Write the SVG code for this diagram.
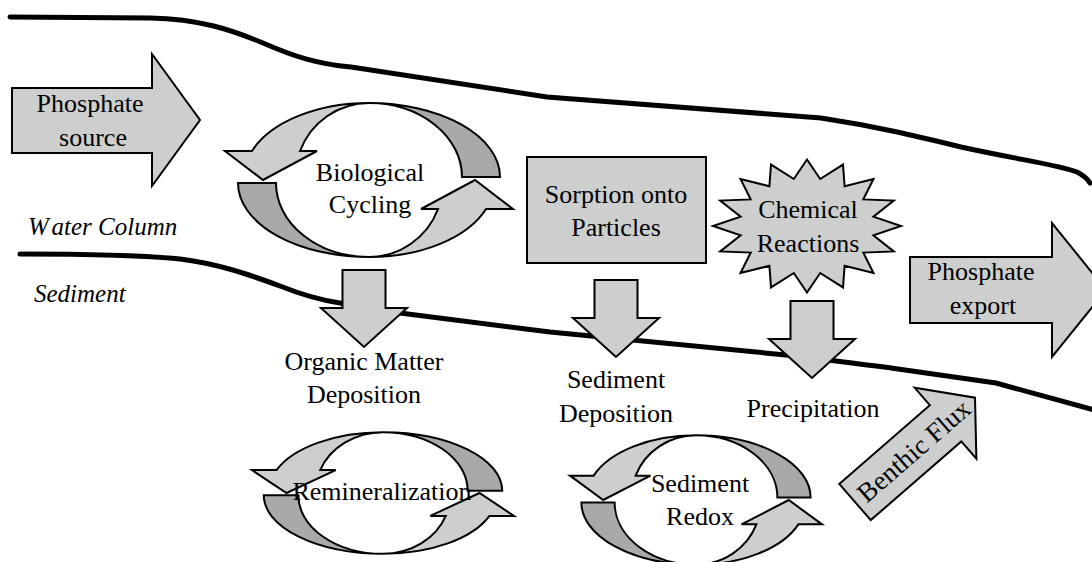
<svg xmlns="http://www.w3.org/2000/svg" xmlns:xlink="http://www.w3.org/1999/xlink" width="1092" height="562" viewBox="0 0 1092 562">
<style>
.lt{fill:#cdcfce;stroke:#000;stroke-width:2;stroke-linejoin:miter}
.dk{fill:#a8aaaa;stroke:#000;stroke-width:2}
.cy path{vector-effect:non-scaling-stroke}
.bd{fill:none;stroke:#000;stroke-width:5;stroke-linecap:round}
text{font-family:"Liberation Serif","Times New Roman",serif;font-size:26px;fill:#000;text-anchor:middle}
.it{font-style:italic;font-size:25px;text-anchor:start}
</style>
<defs>
<g id="cyc" class="cy">
<g id="half">
<path class="dk" d="M131,-3 A131 74 0 0 0 0,-77 A93 74 0 0 1 93,-3 Z"/>
<path class="lt" d="M0,-77 A125 74 0 0 0 -117,-29 L-144,-29 L-106,0 L-52,-29 L-69,-29 A74 74 0 0 1 0,-77 Z"/>
</g>
<use xlink:href="#half" transform="rotate(180)"/>
</g>
<path id="down" class="lt" d="M-21.5,0 H21.5 V38 H43 L0,77 L-43,38 H-21.5 Z"/>
</defs>

<g id="connectors">
<path class="bd" d="M10,17 L150,18 C200,19 232,30 263,43 C295,57 318,64 351,67 L547,97 L821,118 C880,127 920,137 961,147 C1020,160 1060,165 1077,172 C1083,175 1087,178 1090,183"/>
<path class="bd" d="M20,254 C100,254 150,256 180,259 C220,264 250,275 280,286 C300,294 320,300 340,303 C360,307 380,311 400,313 L550,332 L786,355 C830,360 860,364 891,368 L996,383 L1094,410"/>
</g>

<g id="labels">
<text class="it" x="28" y="235">W<tspan dx="5">ater Column</tspan></text>
<text class="it" x="34" y="302">Sediment</text>
</g>

<g id="phosphate-source">
<path class="lt" d="M12,88 H152 V54 L200,120 L152,186 V153 H12 Z"/>
<text x="90" y="112">Phosphate</text>
<text x="93" y="146">source</text>
</g>

<g id="biological-cycling">
<use xlink:href="#cyc" transform="translate(369,180)"/>
<text x="370" y="181">Biological</text>
<text x="370" y="213">Cycling</text>
</g>

<g id="sorption">
<rect class="lt" x="527" y="157" width="179" height="106"/>
<text x="616" y="203">Sorption onto</text>
<text x="616" y="236">Particles</text>
</g>

<g id="chemical-reactions">
<polygon class="lt" points="807,159.5 820.2,179 843,164.6 844.6,186.2 873.5,179 863.3,199.4 893.8,200.6 873.4,216.7 901,226 873.4,235.3 893.8,251.4 863.3,252.6 873.5,273 844.6,265.8 843,287.4 820.2,273 807,292.5 793.8,273 771,287.4 769.4,265.8 740.5,273 750.7,252.6 720.2,251.4 740.6,235.3 713,226 740.6,216.7 720.2,200.6 750.7,199.4 740.5,179 769.4,186.2 771,164.6 793.8,179"/>
<text x="808" y="218">Chemical</text>
<text x="808" y="252">Reactions</text>
</g>

<g id="phosphate-export">
<path class="lt" d="M910,257 H1052 V223 L1106,290 L1052,357 V323 H910 Z"/>
<text x="981" y="280">Phosphate</text>
<text x="983" y="314">export</text>
</g>

<g id="organic-deposition">
<use xlink:href="#down" transform="translate(364,270)"/>
<text x="364" y="370">Organic Matter</text>
<text x="364" y="403">Deposition</text>
</g>

<g id="sediment-deposition">
<use xlink:href="#down" transform="translate(616,280)"/>
<text x="616" y="388">Sediment</text>
<text x="616" y="422">Deposition</text>
</g>

<g id="precipitation">
<use xlink:href="#down" transform="translate(812,301)"/>
<text x="813" y="417">Precipitation</text>
</g>

<g id="remineralization">
<use xlink:href="#cyc" transform="translate(383,493) scale(0.91,0.79)"/>
<text x="382" y="500">Remineralization</text>
</g>

<g id="sediment-redox">
<use xlink:href="#cyc" transform="translate(696,500) scale(0.875,0.84)"/>
<text x="700" y="492">Sediment</text>
<text x="700" y="525">Redox</text>
</g>

<g id="benthic-flux" transform="translate(855,502) rotate(-41)">
<path class="lt" d="M0,-24 H120 V-47 L159,0 L120,47 V24 H0 Z"/>
<text x="78" y="9" style="font-size:27px">Benthic Flux</text>
</g>
</svg>
